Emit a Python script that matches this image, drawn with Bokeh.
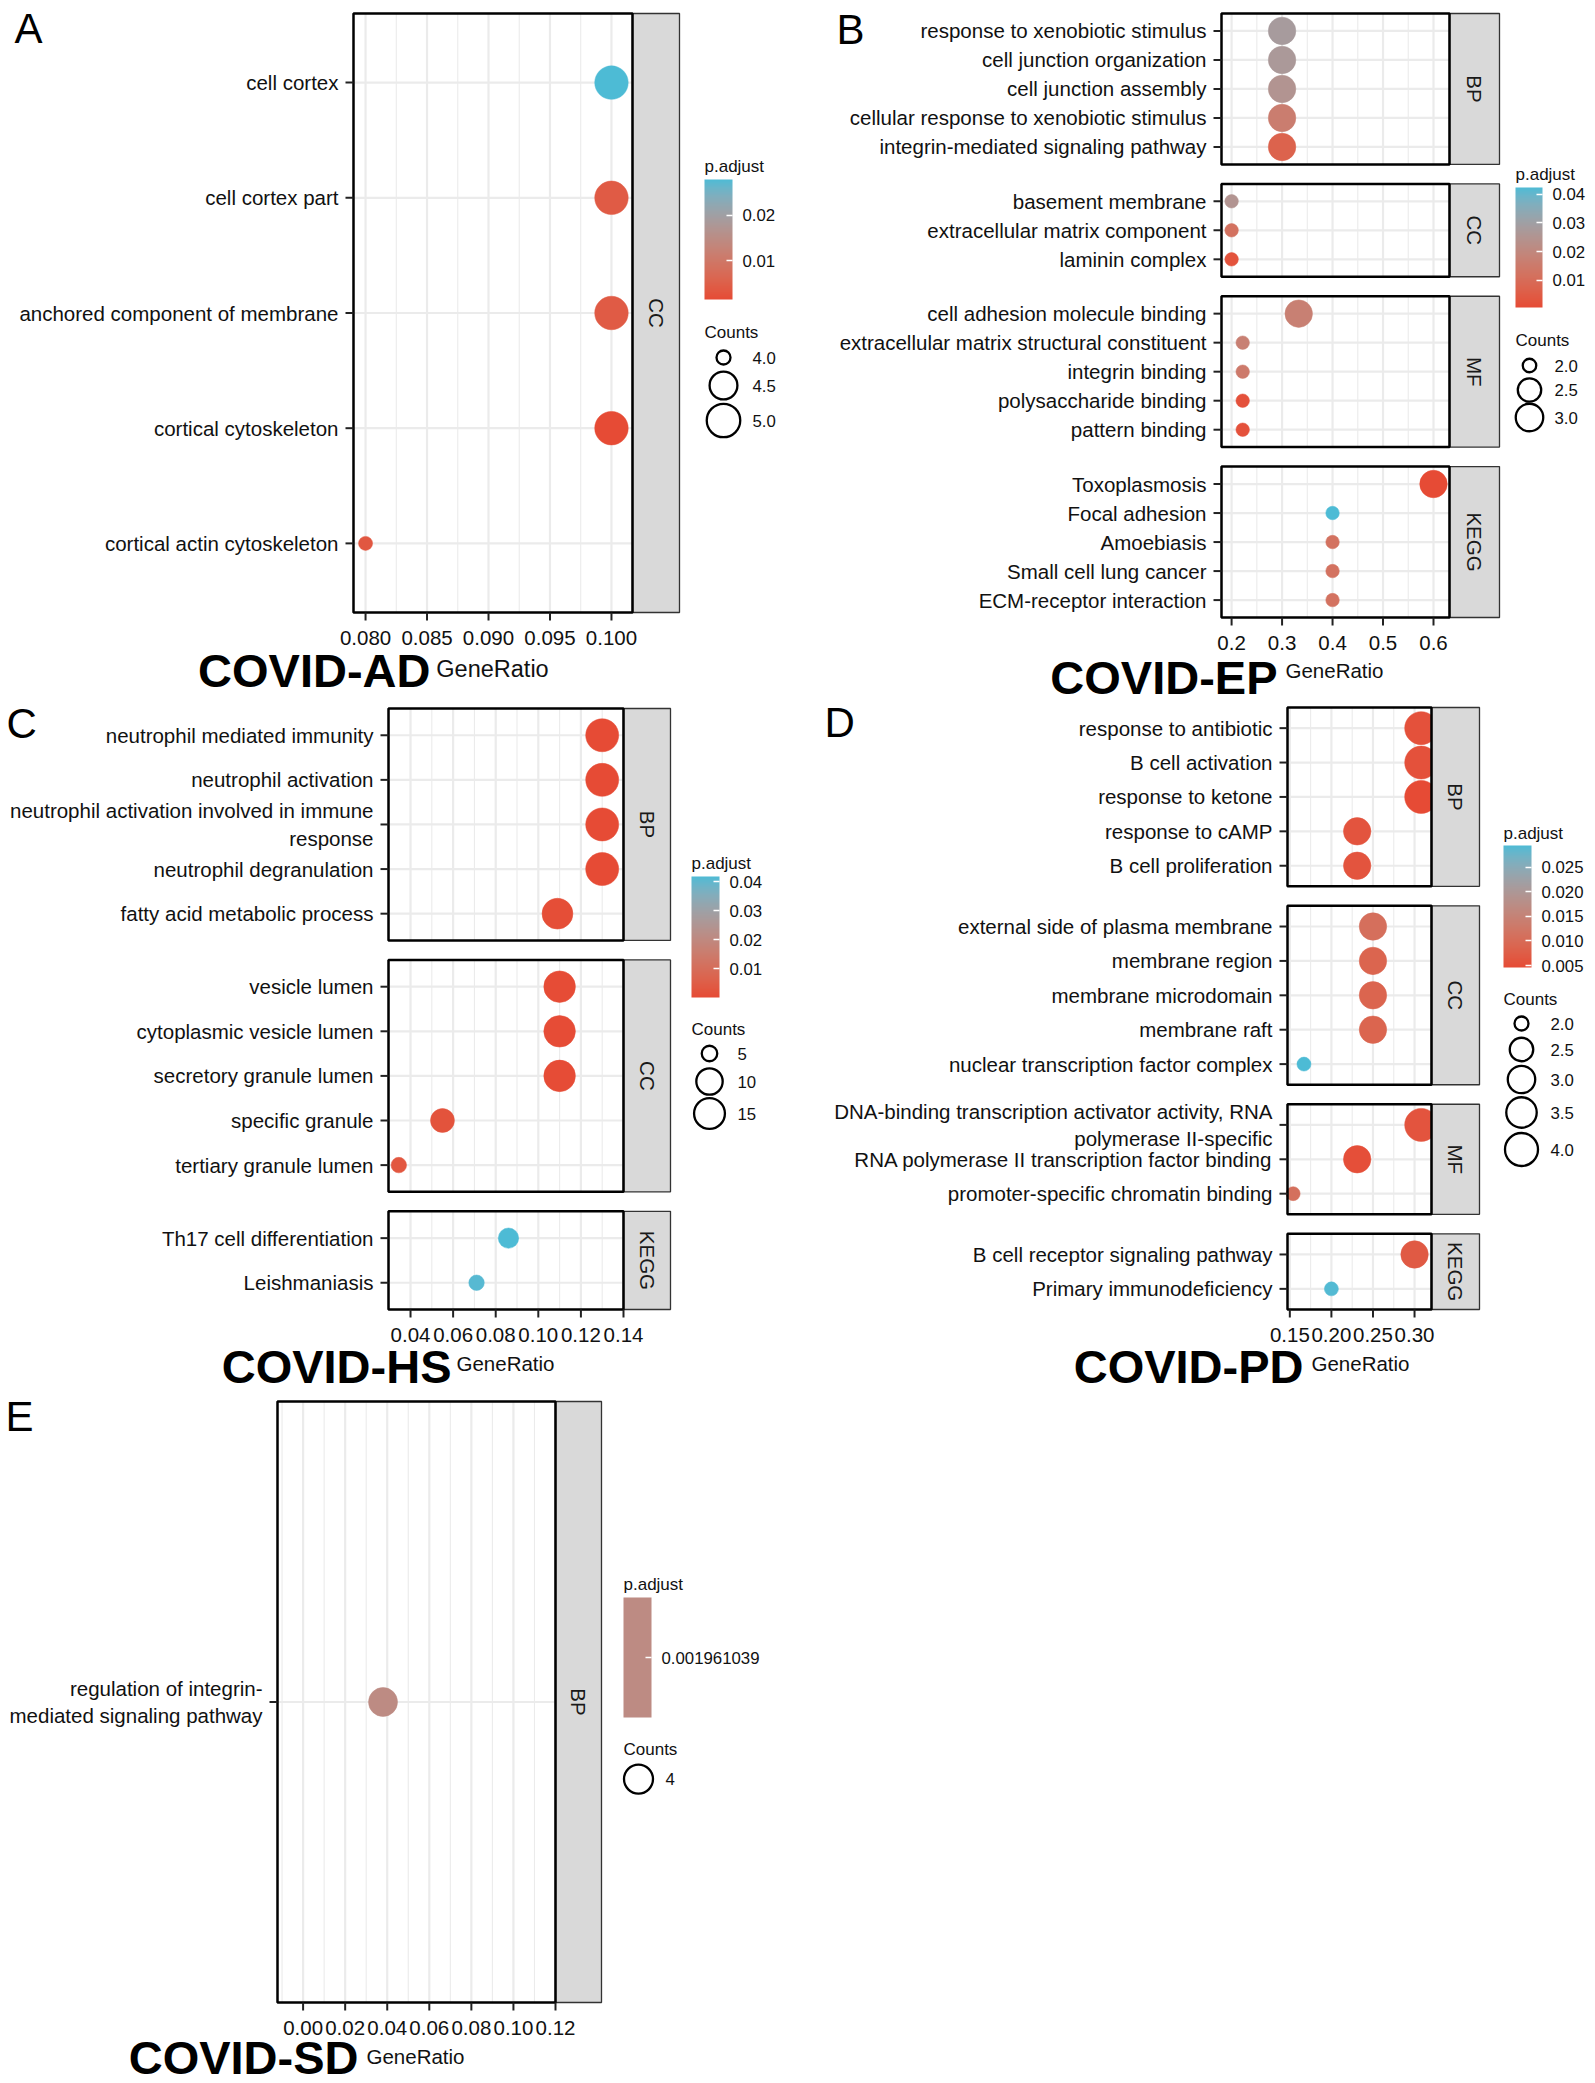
import math
import numpy as np
from bokeh.plotting import figure
from bokeh.models import (Range1d, FixedTicker, ColorBar, LinearColorMapper,
                          PrintfTickFormatter, ColumnDataSource)
from bokeh.embed import file_html
from bokeh.resources import INLINE
from bokeh.core.properties import value

FONT = "Liberation Sans"
TXT = "#111111"

# ---------------- DATA ----------------
# A : COVID-AD
A_groups = ["CC", "CC", "CC", "CC", "CC"]
A_terms = ["cell cortex", "cell cortex part", "anchored component of membrane",
           "cortical cytoskeleton", "cortical actin cytoskeleton"]
A_ratio = [0.100, 0.100, 0.100, 0.100, 0.080]
A_count = [5, 5, 5, 5, 4]
A_padj = [0.0279, 0.0042, 0.0042, 0.0015, 0.0035]
A_xticks = [0.080, 0.085, 0.090, 0.095, 0.100]
A_xlim = [0.07902, 0.10171]
A_pticks = [0.01, 0.02]
A_cbreaks = [4.0, 4.5, 5.0]
A_clabels = ["4.0", "4.5", "5.0"]

# B : COVID-EP
B_groups = ["BP"] * 5 + ["CC"] * 3 + ["MF"] * 5 + ["KEGG"] * 5
B_terms = ["response to xenobiotic stimulus", "cell junction organization", "cell junction assembly",
           "cellular response to xenobiotic stimulus", "integrin-mediated signaling pathway",
           "basement membrane", "extracellular matrix component", "laminin complex",
           "cell adhesion molecule binding", "extracellular matrix structural constituent",
           "integrin binding", "polysaccharide binding", "pattern binding",
           "Toxoplasmosis", "Focal adhesion", "Amoebiasis", "Small cell lung cancer",
           "ECM-receptor interaction"]
B_ratio = [0.3, 0.3, 0.3, 0.3, 0.3,
           0.2, 0.2, 0.2,
           0.333, 0.222, 0.222, 0.222, 0.222,
           0.6, 0.4, 0.4, 0.4, 0.4]
B_count = [3, 3, 3, 3, 3,
           2, 2, 2,
           3, 2, 2, 2, 2,
           3, 2, 2, 2, 2]
B_padj = [0.028, 0.027, 0.025, 0.016, 0.007,
          0.025, 0.012, 0.0025,
          0.017, 0.017, 0.015, 0.002, 0.002,
          0.0004, 0.0424, 0.012, 0.012, 0.012]
B_xticks = [0.2, 0.3, 0.4, 0.5, 0.6]
B_xlim = [0.180, 0.6317]
B_pticks = [0.01, 0.02, 0.03, 0.04]
B_cbreaks = [2.0, 2.5, 3.0]
B_clabels = ["2.0", "2.5", "3.0"]

# C : COVID-HS
C_groups = ["BP"] * 5 + ["CC"] * 5 + ["KEGG"] * 2
C_terms = ["neutrophil mediated immunity", "neutrophil activation",
           "neutrophil activation involved in immune\nresponse", "neutrophil degranulation",
           "fatty acid metabolic process",
           "vesicle lumen", "cytoplasmic vesicle lumen", "secretory granule lumen",
           "specific granule", "tertiary granule lumen",
           "Th17 cell differentiation", "Leishmaniasis"]
C_ratio = [0.130, 0.130, 0.130, 0.130, 0.109,
           0.110, 0.110, 0.110, 0.055, 0.0345,
           0.086, 0.071]
C_count = [18, 18, 18, 18, 15,
           16, 16, 16, 8, 5,
           6, 5]
C_padj = [0.000002, 0.000002, 0.000002, 0.000003, 0.0008,
          0.0003, 0.0003, 0.0003, 0.002, 0.003,
          0.0419, 0.041]
C_xticks = [0.04, 0.06, 0.08, 0.10, 0.12, 0.14]
C_xlim = [0.02966, 0.140]
C_pticks = [0.01, 0.02, 0.03, 0.04]
C_cbreaks = [5, 10, 15]
C_clabels = ["5", "10", "15"]

# D : COVID-PD
D_groups = ["BP"] * 5 + ["CC"] * 5 + ["MF"] * 3 + ["KEGG"] * 2
D_terms = ["response to antibiotic", "B cell activation", "response to ketone",
           "response to cAMP", "B cell proliferation",
           "external side of plasma membrane", "membrane region", "membrane microdomain",
           "membrane raft", "nuclear transcription factor complex",
           "DNA-binding transcription activator activity, RNA\npolymerase II-specific",
           "RNA polymerase II transcription factor binding",
           "promoter-specific chromatin binding",
           "B cell receptor signaling pathway", "Primary immunodeficiency"]
D_ratio = [0.308, 0.308, 0.308, 0.231, 0.231,
           0.250, 0.250, 0.250, 0.250, 0.167,
           0.308, 0.231, 0.154,
           0.300, 0.200]
D_count = [4, 4, 4, 3, 3,
           3, 3, 3, 3, 2,
           4, 3, 2,
           3, 2]
D_padj = [0.0055, 0.0055, 0.0046, 0.006, 0.006,
          0.0108, 0.0088, 0.0088, 0.0088, 0.0294,
          0.006, 0.0052, 0.011,
          0.007, 0.0291]
D_xticks = [0.15, 0.20, 0.25, 0.30]
D_xlim = [0.1472, 0.3204]
D_pticks = [0.005, 0.010, 0.015, 0.020, 0.025]
D_cbreaks = [2.0, 2.5, 3.0, 3.5, 4.0]
D_clabels = ["2.0", "2.5", "3.0", "3.5", "4.0"]

# E : COVID-SD
E_groups = ["BP"]
E_terms = ["regulation of integrin-\nmediated signaling pathway"]
E_ratio = [0.038]
E_count = [4]
E_padj = [0.001961039]
E_xticks = [0.00, 0.02, 0.04, 0.06, 0.08, 0.10, 0.12]
E_xlim = [-0.01217, 0.120]
E_pticks = [0.001961039]
E_cbreaks = [4]
E_clabels = ["4"]

# ---------------- colour scale (CIELAB interpolation, as ggplot) ----------------
_M = np.array([[0.4124564, 0.3575761, 0.1804375],
               [0.2126729, 0.7151522, 0.0721750],
               [0.0193339, 0.1191920, 0.9503041]])
_Minv = np.linalg.inv(_M)
_W = np.array([0.95047, 1.0, 1.08883])


def _f(t):
    d = 6 / 29
    return np.where(t > d ** 3, np.cbrt(t), t / (3 * d * d) + 4 / 29)


def _finv(t):
    d = 6 / 29
    return np.where(t > d, t ** 3, 3 * d * d * (t - 4 / 29))


def hex2lab(h):
    h = h.lstrip("#")
    rgb = np.array([int(h[i:i + 2], 16) for i in (0, 2, 4)]) / 255.0
    lin = np.where(rgb <= 0.04045, rgb / 12.92, ((rgb + 0.055) / 1.055) ** 2.4)
    xyz = (_M @ lin) / _W
    fx, fy, fz = _f(xyz)
    return np.array([116 * fy - 16, 500 * (fx - fy), 200 * (fy - fz)])


def lab2hex(lab):
    L, a, b = lab
    fy = (L + 16) / 116
    fx = fy + a / 500
    fz = fy - b / 200
    xyz = _finv(np.array([fx, fy, fz])) * _W
    lin = np.clip(_Minv @ xyz, 0, 1)
    rgb = np.where(lin <= 0.0031308, 12.92 * lin, 1.055 * lin ** (1 / 2.4) - 0.055)
    rgb = np.clip(np.round(rgb * 255), 0, 255).astype(int)
    return "#%02x%02x%02x" % tuple(rgb)


LAB_LO, LAB_HI = hex2lab("#E64B35"), hex2lab("#4DBBD5")
PALETTE = [lab2hex(LAB_LO + (LAB_HI - LAB_LO) * t) for t in np.linspace(0, 1, 256)]
MID = lab2hex(LAB_LO + (LAB_HI - LAB_LO) * 0.5)

# ---------------- panel definitions ----------------
PANELS = [
    dict(letter="A", title="COVID-AD", groups=A_groups, terms=A_terms, ratio=A_ratio, count=A_count,
         padj=A_padj, xticks=A_xticks, xlim=A_xlim, xfmt="%.3f", pticks=A_pticks, pfmt="%.2f",
         cbreaks=A_cbreaks, clabels=A_clabels),
    dict(letter="B", title="COVID-EP", groups=B_groups, terms=B_terms, ratio=B_ratio, count=B_count,
         padj=B_padj, xticks=B_xticks, xlim=B_xlim, xfmt="%.1f", pticks=B_pticks, pfmt="%.2f",
         cbreaks=B_cbreaks, clabels=B_clabels),
    dict(letter="C", title="COVID-HS", groups=C_groups, terms=C_terms, ratio=C_ratio, count=C_count,
         padj=C_padj, xticks=C_xticks, xlim=C_xlim, xfmt="%.2f", pticks=C_pticks, pfmt="%.2f",
         cbreaks=C_cbreaks, clabels=C_clabels),
    dict(letter="D", title="COVID-PD", groups=D_groups, terms=D_terms, ratio=D_ratio, count=D_count,
         padj=D_padj, xticks=D_xticks, xlim=D_xlim, xfmt="%.2f", pticks=D_pticks, pfmt="%.3f",
         cbreaks=D_cbreaks, clabels=D_clabels),
    dict(letter="E", title="COVID-SD", groups=E_groups, terms=E_terms, ratio=E_ratio, count=E_count,
         padj=E_padj, xticks=E_xticks, xlim=E_xlim, xfmt="%.2f", pticks=E_pticks, pfmt="%.9f",
         cbreaks=E_cbreaks, clabels=E_clabels),
]

# page-pixel layout (positions / sizes only); text y values are vertical centres
LAYOUT = {
    "A": dict(frame=(353, 13, 632, 679, 612), gap=0, dsize=(14, 33.5),
              letter=(14, 28), gr=(492, 668.5, "23.5px"), covid=(430, 670),
              ptitle=(704, 166), bar=(704, 179, 28, 120),
              ctitle=(704, 332), keys_x=723, keys_y=[357, 385, 420], klab_x=752),
    "B": dict(frame=(1221, 13, 1449, 1499, 617), gap=19.5, dsize=(13.5, 27.5),
              letter=(836, 29), gr=(1334, 669.5, "20.5px"), covid=(1277, 677),
              ptitle=(1515, 174), bar=(1515, 187, 27, 120),
              ctitle=(1515, 340), keys_x=1529, keys_y=[365, 389.5, 417], klab_x=1554),
    "C": dict(frame=(388, 708, 623, 670, 1309), gap=19.5, dsize=(15.5, 33),
              letter=(6, 723), gr=(505, 1363, "20.5px"), covid=(451, 1366),
              ptitle=(691, 863), bar=(691, 876, 28, 121),
              ctitle=(691, 1029), keys_x=709, keys_y=[1053, 1081, 1113], klab_x=737),
    "D": dict(frame=(1287, 707, 1431, 1479, 1309), gap=19.5, dsize=(14, 33),
              letter=(824, 722), gr=(1360, 1363, "20.5px"), covid=(1303, 1366),
              ptitle=(1503, 833), bar=(1503, 845, 28, 122),
              ctitle=(1503, 999), keys_x=1521, keys_y=[1023, 1049, 1079, 1112, 1149], klab_x=1550),
    "E": dict(frame=(277, 1401, 555, 601, 2002), gap=0, dsize=(29, 29),
              letter=(5, 1416), gr=(415, 2056, "20.5px"), covid=(358, 2057),
              ptitle=(623, 1584), bar=(623, 1597, 28, 120),
              ctitle=(623, 1749), keys_x=638, keys_y=[1778.6], klab_x=665),
}

W, H = 1595, 2083
TICK = 8        # tick length (px)
YLAB_OFF = 15   # y label right edge left of panel (px)
XLAB_OFF = 25   # x label centre below panel (px)


def make_diam(counts, dmin, dmax):
    cmin, cmax = min(counts), max(counts)
    if cmax == cmin:
        return lambda c: (dmin + dmax) / 2
    return lambda c: dmin + (dmax - dmin) * math.sqrt(max(0.0, (c - cmin) / (cmax - cmin)))


def make_mapper(padj):
    lo, hi = min(padj), max(padj)
    if hi == lo:
        return LinearColorMapper(palette=[MID], low=lo * 0.999, high=hi * 1.001)
    return LinearColorMapper(palette=PALETTE, low=lo, high=hi)


p = figure(width=W, height=H, x_range=Range1d(0, W), y_range=Range1d(H, 0),
           x_axis_type=None, y_axis_type=None, min_border=0,
           output_backend="svg", toolbar_location=None)
p.outline_line_color = None
p.background_fill_color = "white"
p.border_fill_color = "white"

XR, YR = {}, {}


def txt(**kw):
    base = dict(text_font=value(FONT), text_color=TXT)
    base.update(kw)
    return base


def draw_panel(D, L):
    nm = D["letter"]
    mapper = make_mapper(D["padj"])
    diam = make_diam(D["count"], *L["dsize"])
    groups, terms = D["groups"], D["terms"]
    gnames = list(dict.fromkeys(groups))
    ncount = [groups.count(g) for g in gnames]
    left, top, pright, sright, bottom = L["frame"]
    k = len(gnames)
    units = sum(n + 0.2 for n in ncount)
    step = (bottom - top - (k - 1) * L["gap"]) / units
    gap_u = L["gap"] / step
    total = units + (k - 1) * gap_u

    ypos, facets = [], []
    cur = total
    for g, n in zip(gnames, ncount):
        ftop, fbot = cur, cur - (n + 0.2)
        facets.append((g, fbot, ftop))
        ypos += [ftop - 0.6 - i for i in range(n)]
        cur = fbot - gap_u

    x_lo, x_hi = D["xlim"]
    ux = (x_hi - x_lo) / (pright - left)
    uy = 1.0 / step
    xs = x_lo - left * ux
    XR["x" + nm] = Range1d(xs, xs + W * ux)
    YR["y" + nm] = Range1d(-(H - bottom) * uy, total + top * uy)
    kw = dict(x_range_name="x" + nm, y_range_name="y" + nm)
    s_hi = x_hi + (sright - pright) * ux

    # grid lines inside each facet
    xt = D["xticks"]
    dx = xt[1] - xt[0]
    majors = [t for t in xt if x_lo <= t <= x_hi]
    minors = [t + dx / 2 for t in [xt[0] - dx] + xt]
    minors = [m for m in minors if x_lo <= m <= x_hi]
    mx, my0, my1, Mx, My0, My1 = [], [], [], [], [], []
    for g, fb, ft in facets:
        for m in minors:
            mx.append(m); my0.append(fb); my1.append(ft)
        for m in majors:
            Mx.append(m); My0.append(fb); My1.append(ft)
    p.segment(x0=mx, x1=mx, y0=my0, y1=my1, line_color="#EBEBEB", line_width=1.1, **kw)
    p.segment(x0=Mx, x1=Mx, y0=My0, y1=My1, line_color="#EBEBEB", line_width=2.2, **kw)
    n = len(ypos)
    p.segment(x0=[x_lo] * n, x1=[x_hi] * n, y0=ypos, y1=ypos,
              line_color="#EBEBEB", line_width=2.2, **kw)

    # points
    src = ColumnDataSource(dict(x=D["ratio"], y=ypos, size=[diam(c) for c in D["count"]],
                                padj=D["padj"]))
    p.scatter("x", "y", size="size", source=src, marker="circle",
              fill_color={"field": "padj", "transform": mapper},
              line_color={"field": "padj", "transform": mapper}, line_width=0.5, **kw)

    # strips
    fb_l = [f[1] for f in facets]
    ft_l = [f[2] for f in facets]
    p.quad(left=[x_hi] * k, right=[s_hi] * k, bottom=fb_l, top=ft_l,
           fill_color="#D9D9D9", line_color="#333333", line_width=1.3, **kw)
    p.text(x=[(x_hi + s_hi) / 2] * k, y=[(a + b) / 2 for a, b in zip(fb_l, ft_l)], text=gnames,
           angle=-math.pi / 2, text_align="center", text_baseline="middle",
           **txt(text_font_size="20.5px", text_color="#1A1A1A"), **kw)
    # panel borders
    p.quad(left=[x_lo] * k, right=[x_hi] * k, bottom=fb_l, top=ft_l,
           fill_color=None, line_color="black", line_width=2.5, **kw)

    # y axis: ticks + labels
    p.segment(x0=[x_lo - TICK * ux] * n, x1=[x_lo] * n, y0=ypos, y1=ypos,
              line_color="#222222", line_width=2, **kw)
    p.text(x=[x_lo - YLAB_OFF * ux] * n, y=ypos, text=terms, text_align="right",
           text_baseline="middle", **txt(text_font_size="20.5px"), **kw)
    # x axis: ticks + labels
    m = len(xt)
    p.segment(x0=xt, x1=xt, y0=[0] * m, y1=[-TICK * uy] * m,
              line_color="#222222", line_width=2, **kw)
    p.text(x=xt, y=[-XLAB_OFF * uy] * m, text=[D["xfmt"] % t for t in xt], text_align="center",
           text_baseline="middle", **txt(text_font_size="20.5px"), **kw)

    # letter, data-set title and axis title (page coordinates)
    lx, ly = L["letter"]
    p.text(x=[lx], y=[ly], text=[nm], text_align="left", text_baseline="middle",
           **txt(text_font_size="42px", text_color="black"))
    gx, gy, gfs = L["gr"]
    p.text(x=[gx], y=[gy], text=["GeneRatio"], text_align="center", text_baseline="middle",
           **txt(text_font_size=gfs))
    cx, cy = L["covid"]
    p.text(x=[cx], y=[cy], text=[D["title"]], text_align="right", text_baseline="middle",
           **txt(text_font_size="47px", text_font_style=value("bold"), text_color="black"))

    # legends
    tx, ty = L["ptitle"]
    cx2, cy2 = L["ctitle"]
    p.text(x=[tx, cx2], y=[ty, cy2], text=["p.adjust", "Counts"], text_align="left",
           text_baseline="middle", **txt(text_font_size="17px"))
    bx, btop, bw, bh = L["bar"]
    cb = ColorBar(color_mapper=mapper, ticker=FixedTicker(ticks=D["pticks"]),
                  formatter=PrintfTickFormatter(format=D["pfmt"]),
                  location=(bx, H - (btop + bh)), width=bw, height=bh,
                  orientation="vertical", padding=0, label_standoff=10,
                  major_label_text_font=FONT, major_label_text_font_size="16.8px",
                  major_label_text_color=TXT,
                  major_tick_line_color="white", major_tick_line_width=1.5,
                  major_tick_in=6, major_tick_out=0, minor_tick_line_color=None,
                  bar_line_color=None, border_line_color=None, background_fill_color=None)
    p.add_layout(cb)
    nb = len(D["cbreaks"])
    p.scatter(x=[L["keys_x"]] * nb, y=L["keys_y"], size=[diam(c) for c in D["cbreaks"]],
              marker="circle", fill_color=None, line_color="black", line_width=2.3)
    p.text(x=[L["klab_x"]] * nb, y=L["keys_y"], text=D["clabels"], text_align="left",
           text_baseline="middle", **txt(text_font_size="16.8px"))


for D in PANELS:
    draw_panel(D, LAYOUT[D["letter"]])

p.extra_x_ranges = XR
p.extra_y_ranges = YR

open("out.html", "w").write(file_html(p, INLINE))
